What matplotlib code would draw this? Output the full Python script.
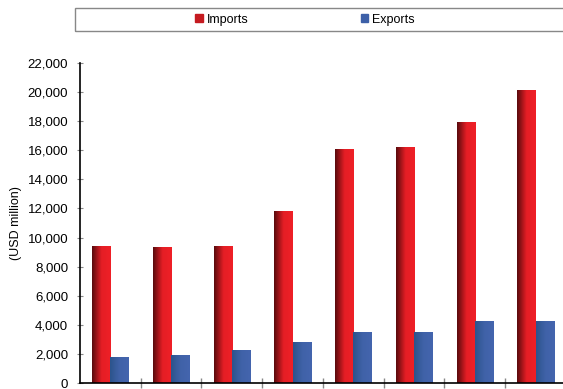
import numpy as np
import matplotlib.pyplot as plt
from matplotlib.colors import LinearSegmentedColormap
from matplotlib.patches import Rectangle
from matplotlib.ticker import FuncFormatter

plt.rcParams['font.family'] = ['Liberation Sans', 'DejaVu Sans']

# trade values, USD million
imports = [9450, 9350, 9450, 11830, 16090, 16220, 17940, 20140]
exports = [1790, 1925, 2270, 2820, 3500, 3500, 4260, 4260]
series_names = ['Imports', 'Exports']

red_map = LinearSegmentedColormap.from_list('red', [(0, '#5a0b0d'), (0.5, '#e41e25'), (1, '#ef2027')])
blue_map = LinearSegmentedColormap.from_list('blue', [(0, '#2c548c'), (0.5, '#4062a8'), (1, '#4465ae')])

fig = plt.figure(figsize=(5.63, 3.89), dpi=100)
ax = fig.add_axes([80 / 563, 1 - 383 / 389, 486 / 563, 320 / 389])

x = np.arange(len(imports)) + 0.5
w = 0.3
grad = np.linspace(0, 1, 64).reshape(1, -1)

bars_i = ax.bar(x - w / 2, imports, w, color='#e41e25', label=series_names[0])
bars_e = ax.bar(x + w / 2, exports, w, color='#4062a8', label=series_names[1])

# horizontal shading on every bar
for bars, cmap in ((bars_i, red_map), (bars_e, blue_map)):
    for b in bars:
        x0, y0 = b.get_x(), b.get_y()
        im = ax.imshow(grad, cmap=cmap, aspect='auto', interpolation='bilinear',
                       extent=(x0, x0 + b.get_width(), y0, y0 + b.get_height()), zorder=2)
        im.set_clip_path(b)

ax.set_xlim(0, len(imports))
ax.set_ylim(0, 22000)
ax.set_yticks(np.arange(0, 22001, 2000))
ax.yaxis.set_major_formatter(FuncFormatter(lambda v, p: f'{int(v):,}'))
ax.set_xticks(np.arange(1, len(imports)))
ax.set_xticklabels([])
ax.tick_params(axis='y', direction='inout', length=5, width=0.8, color='#888888', labelsize=9.5, pad=6)
ax.tick_params(axis='x', direction='inout', length=7, width=1, color='#888888')
for s in ('top', 'right'):
    ax.spines[s].set_visible(False)
for s in ('left', 'bottom'):
    ax.spines[s].set_linewidth(1.2)
    ax.spines[s].set_color('black')

fig.text(16 / 563, 1 - 223 / 389, '(USD million)', rotation=90,
         ha='center', va='center', fontsize=9)

# legend box across the top
fig.patches.append(Rectangle((75 / 563, 1 - 31 / 389), 500 / 563, 23 / 389,
                             transform=fig.transFigure, fill=False,
                             edgecolor='#888888', linewidth=1))
handles = [Rectangle((0, 0), 1, 1, color='#c51a20'), Rectangle((0, 0), 1, 1, color='#3d60a8')]
fig.legend(handles, series_names, loc='center', bbox_to_anchor=(305 / 563, 1 - 19.5 / 389),
           ncol=2, frameon=False, fontsize=9, handlelength=0.6, handleheight=0.6,
           handletextpad=0.3, columnspacing=9.0)

fig.savefig('out.png', dpi=100)
